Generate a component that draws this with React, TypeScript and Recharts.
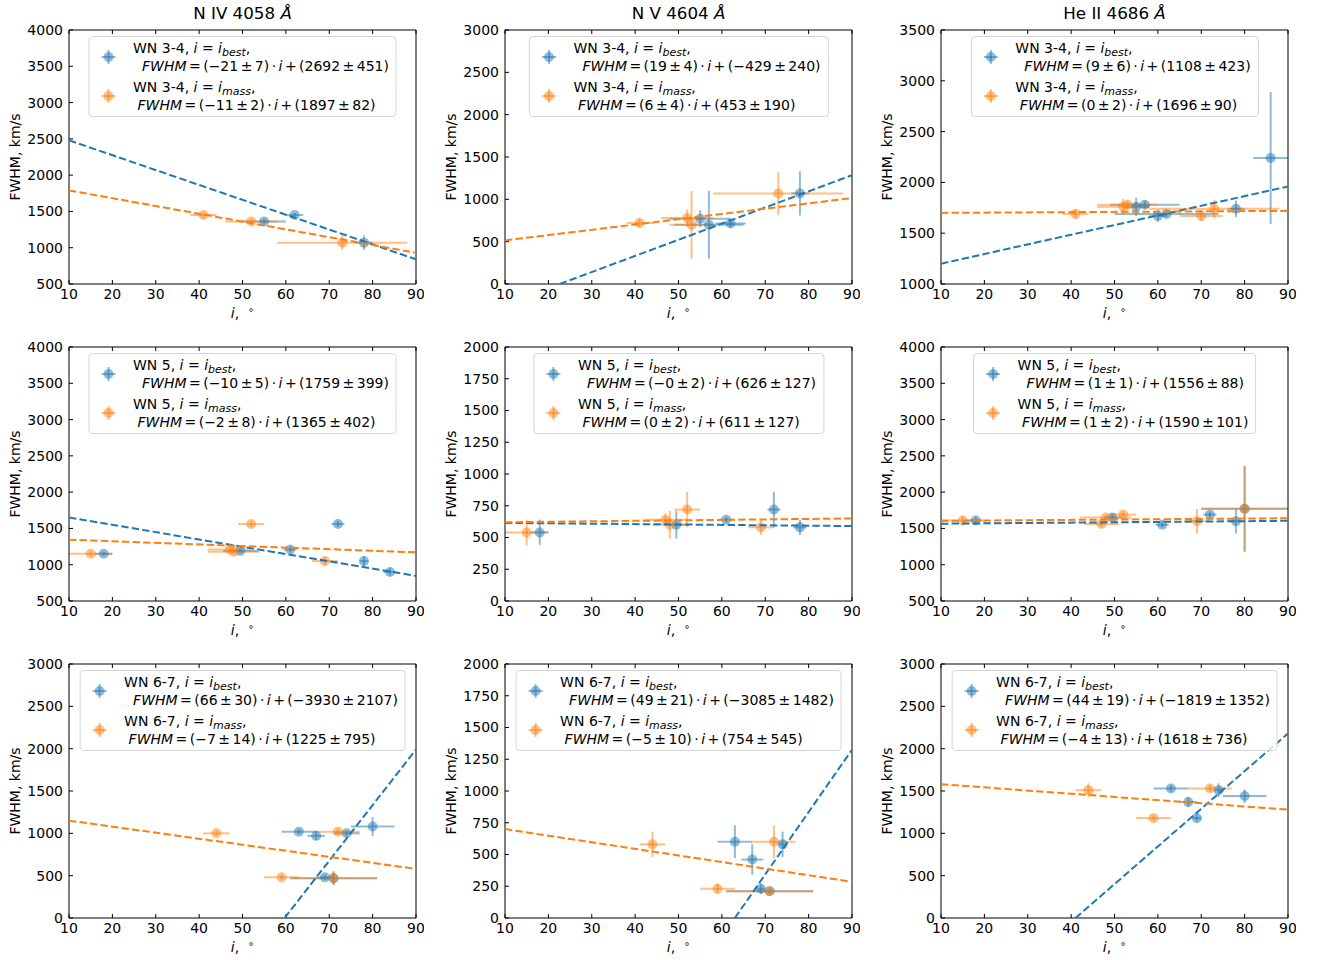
import React from 'react';
import { ScatterChart, Scatter, XAxis, YAxis, ErrorBar } from 'recharts';

const BLUE = '#1f77b4';
const ORANGE = '#ff7f0e';
const FONT = '"DejaVu Sans", sans-serif';

type Pt = { i: number; fwhm: number; ei: number; ef: number };
type Fit = { i: number; fwhm: number };

const incTicks = [10, 20, 30, 40, 50, 60, 70, 80, 90];
const lineNames = ['N IV 4058', 'N V 4604', 'He II 4686'];
const classNames = ['WN 3-4', 'WN 5', 'WN 6-7'];

// y ticks per panel (row-major)
const yTicks: number[][] = [
  [500, 1000, 1500, 2000, 2500, 3000, 3500, 4000],
  [0, 500, 1000, 1500, 2000, 2500, 3000],
  [1000, 1500, 2000, 2500, 3000, 3500],
  [500, 1000, 1500, 2000, 2500, 3000, 3500, 4000],
  [0, 250, 500, 750, 1000, 1250, 1500, 1750, 2000],
  [500, 1000, 1500, 2000, 2500, 3000, 3500, 4000],
  [0, 500, 1000, 1500, 2000, 2500, 3000],
  [0, 250, 500, 750, 1000, 1250, 1500, 1750, 2000],
  [0, 500, 1000, 1500, 2000, 2500, 3000],
];

// WN 3-4
const niv34Best: Pt[] = [
  { i: 55, fwhm: 1360, ei: 5, ef: 40 },
  { i: 62, fwhm: 1450, ei: 2, ef: 30 },
  { i: 78, fwhm: 1070, ei: 2, ef: 100 },
];
const niv34Mass: Pt[] = [
  { i: 41, fwhm: 1450, ei: 3, ef: 40 },
  { i: 52, fwhm: 1360, ei: 6, ef: 40 },
  { i: 73, fwhm: 1070, ei: 15, ef: 100 },
];
const niv34BestFit: Fit[] = [{ i: 10, fwhm: 2480 }, { i: 90, fwhm: 840 }];
const niv34MassFit: Fit[] = [{ i: 10, fwhm: 1790 }, { i: 90, fwhm: 930 }];

const nv34Best: Pt[] = [
  { i: 55, fwhm: 770, ei: 7, ef: 100 },
  { i: 57, fwhm: 700, ei: 8, ef: 400 },
  { i: 62, fwhm: 715, ei: 3.5, ef: 50 },
  { i: 78, fwhm: 1070, ei: 2, ef: 260 },
];
const nv34Mass: Pt[] = [
  { i: 41, fwhm: 720, ei: 3, ef: 50 },
  { i: 52, fwhm: 780, ei: 6, ef: 100 },
  { i: 53, fwhm: 700, ei: 5, ef: 400 },
  { i: 73, fwhm: 1070, ei: 15, ef: 250 },
];
const nv34BestFit: Fit[] = [{ i: 22.6, fwhm: 0 }, { i: 90, fwhm: 1285 }];
const nv34MassFit: Fit[] = [{ i: 10, fwhm: 515 }, { i: 90, fwhm: 1015 }];

const heii34Best: Pt[] = [
  { i: 55, fwhm: 1760, ei: 3, ef: 90 },
  { i: 57, fwhm: 1780, ei: 8, ef: 40 },
  { i: 60, fwhm: 1670, ei: 2, ef: 60 },
  { i: 62, fwhm: 1690, ei: 12, ef: 30 },
  { i: 78, fwhm: 1740, ei: 2, ef: 80 },
  { i: 86, fwhm: 2240, ei: 4, ef: 650 },
];
const heii34Mass: Pt[] = [
  { i: 41, fwhm: 1690, ei: 3, ef: 50 },
  { i: 52, fwhm: 1760, ei: 6, ef: 80 },
  { i: 53, fwhm: 1780, ei: 7, ef: 40 },
  { i: 70, fwhm: 1670, ei: 5, ef: 50 },
  { i: 73, fwhm: 1740, ei: 15, ef: 90 },
];
const heii34BestFit: Fit[] = [{ i: 10, fwhm: 1200 }, { i: 90, fwhm: 1960 }];
const heii34MassFit: Fit[] = [{ i: 10, fwhm: 1700 }, { i: 90, fwhm: 1720 }];

// WN 5
const niv5Best: Pt[] = [
  { i: 18, fwhm: 1150, ei: 2, ef: 30 },
  { i: 49.5, fwhm: 1190, ei: 4, ef: 30 },
  { i: 61, fwhm: 1210, ei: 1.5, ef: 40 },
  { i: 72, fwhm: 1560, ei: 1.5, ef: 40 },
  { i: 78, fwhm: 1050, ei: 1, ef: 70 },
  { i: 84, fwhm: 900, ei: 1.5, ef: 50 },
];
const niv5Mass: Pt[] = [
  { i: 15, fwhm: 1150, ei: 5, ef: 30 },
  { i: 47, fwhm: 1210, ei: 5, ef: 40 },
  { i: 48, fwhm: 1180, ei: 6, ef: 40 },
  { i: 52, fwhm: 1560, ei: 3, ef: 40 },
  { i: 69, fwhm: 1050, ei: 3, ef: 60 },
];
const niv5BestFit: Fit[] = [{ i: 10, fwhm: 1650 }, { i: 90, fwhm: 845 }];
const niv5MassFit: Fit[] = [{ i: 10, fwhm: 1345 }, { i: 90, fwhm: 1170 }];

const nv5Best: Pt[] = [
  { i: 18, fwhm: 540, ei: 2, ef: 100 },
  { i: 49.5, fwhm: 600, ei: 3, ef: 110 },
  { i: 61, fwhm: 640, ei: 1.5, ef: 20 },
  { i: 72, fwhm: 720, ei: 1.5, ef: 140 },
  { i: 78, fwhm: 580, ei: 1.5, ef: 60 },
];
const nv5Mass: Pt[] = [
  { i: 15, fwhm: 540, ei: 5, ef: 100 },
  { i: 47, fwhm: 640, ei: 5, ef: 50 },
  { i: 48, fwhm: 600, ei: 4, ef: 110 },
  { i: 52, fwhm: 720, ei: 3, ef: 140 },
  { i: 69, fwhm: 580, ei: 3, ef: 60 },
];
const nv5BestFit: Fit[] = [{ i: 10, fwhm: 615 }, { i: 90, fwhm: 590 }];
const nv5MassFit: Fit[] = [{ i: 10, fwhm: 620 }, { i: 90, fwhm: 650 }];

const heii5Best: Pt[] = [
  { i: 18, fwhm: 1610, ei: 1.5, ef: 50 },
  { i: 49.5, fwhm: 1650, ei: 2, ef: 40 },
  { i: 61, fwhm: 1550, ei: 1.5, ef: 40 },
  { i: 72, fwhm: 1690, ei: 1.5, ef: 40 },
  { i: 78, fwhm: 1600, ei: 1.5, ef: 170 },
  { i: 80, fwhm: 1770, ei: 10, ef: 590 },
];
const heii5Mass: Pt[] = [
  { i: 15, fwhm: 1610, ei: 5, ef: 60 },
  { i: 47, fwhm: 1560, ei: 4, ef: 50 },
  { i: 48, fwhm: 1650, ei: 6, ef: 40 },
  { i: 52, fwhm: 1690, ei: 3, ef: 40 },
  { i: 69, fwhm: 1600, ei: 3, ef: 170 },
  { i: 80, fwhm: 1770, ei: 10, ef: 590 },
];
const heii5BestFit: Fit[] = [{ i: 10, fwhm: 1565 }, { i: 90, fwhm: 1605 }];
const heii5MassFit: Fit[] = [{ i: 10, fwhm: 1605 }, { i: 90, fwhm: 1640 }];

// WN 6-7
const niv67Best: Pt[] = [
  { i: 63, fwhm: 1020, ei: 4, ef: 30 },
  { i: 67, fwhm: 970, ei: 2, ef: 50 },
  { i: 69, fwhm: 480, ei: 2, ef: 30 },
  { i: 71, fwhm: 470, ei: 10, ef: 80 },
  { i: 74, fwhm: 1000, ei: 3, ef: 30 },
  { i: 80, fwhm: 1080, ei: 5, ef: 110 },
];
const niv67Mass: Pt[] = [
  { i: 44, fwhm: 1000, ei: 3, ef: 30 },
  { i: 59, fwhm: 480, ei: 4, ef: 30 },
  { i: 71, fwhm: 470, ei: 10, ef: 80 },
  { i: 72, fwhm: 1020, ei: 5, ef: 40 },
];
const niv67BestFit: Fit[] = [{ i: 59.7, fwhm: 0 }, { i: 90, fwhm: 1990 }];
const niv67MassFit: Fit[] = [{ i: 10, fwhm: 1150 }, { i: 90, fwhm: 580 }];

const nv67Best: Pt[] = [
  { i: 63, fwhm: 600, ei: 4, ef: 130 },
  { i: 67, fwhm: 460, ei: 2.5, ef: 120 },
  { i: 69, fwhm: 230, ei: 1, ef: 40 },
  { i: 71, fwhm: 210, ei: 10, ef: 20 },
  { i: 74, fwhm: 580, ei: 1, ef: 100 },
];
const nv67Mass: Pt[] = [
  { i: 44, fwhm: 580, ei: 3, ef: 100 },
  { i: 59, fwhm: 230, ei: 4, ef: 40 },
  { i: 71, fwhm: 210, ei: 10, ef: 20 },
  { i: 72, fwhm: 600, ei: 5, ef: 130 },
];
const nv67BestFit: Fit[] = [{ i: 63, fwhm: 0 }, { i: 90, fwhm: 1325 }];
const nv67MassFit: Fit[] = [{ i: 10, fwhm: 700 }, { i: 90, fwhm: 285 }];

const heii67Best: Pt[] = [
  { i: 63, fwhm: 1530, ei: 4, ef: 40 },
  { i: 67, fwhm: 1370, ei: 2, ef: 60 },
  { i: 69, fwhm: 1180, ei: 1, ef: 40 },
  { i: 74, fwhm: 1510, ei: 1, ef: 80 },
  { i: 80, fwhm: 1440, ei: 5, ef: 80 },
];
const heii67Mass: Pt[] = [
  { i: 44, fwhm: 1510, ei: 3, ef: 80 },
  { i: 59, fwhm: 1180, ei: 4, ef: 30 },
  { i: 72, fwhm: 1530, ei: 5, ef: 40 },
];
const heii67BestFit: Fit[] = [{ i: 41, fwhm: 0 }, { i: 90, fwhm: 2180 }];
const heii67MassFit: Fit[] = [{ i: 10, fwhm: 1580 }, { i: 90, fwhm: 1280 }];

// legend fit coefficients
const slopeBest = ['−21 ± 7', '19 ± 4', '9 ± 6', '−10 ± 5', '−0 ± 2', '1 ± 1', '66 ± 30', '49 ± 21', '44 ± 19'];
const interBest = ['2692 ± 451', '−429 ± 240', '1108 ± 423', '1759 ± 399', '626 ± 127', '1556 ± 88', '−3930 ± 2107', '−3085 ± 1482', '−1819 ± 1352'];
const slopeMass = ['−11 ± 2', '6 ± 4', '0 ± 2', '−2 ± 8', '0 ± 2', '1 ± 2', '−7 ± 14', '−5 ± 10', '−4 ± 13'];
const interMass = ['1897 ± 82', '453 ± 190', '1696 ± 90', '1365 ± 402', '611 ± 127', '1590 ± 101', '1225 ± 795', '754 ± 545', '1618 ± 736'];

const bestSets = [niv34Best, nv34Best, heii34Best, niv5Best, nv5Best, heii5Best, niv67Best, nv67Best, heii67Best];
const massSets = [niv34Mass, nv34Mass, heii34Mass, niv5Mass, nv5Mass, heii5Mass, niv67Mass, nv67Mass, heii67Mass];
const bestFits = [niv34BestFit, nv34BestFit, heii34BestFit, niv5BestFit, nv5BestFit, heii5BestFit, niv67BestFit, nv67BestFit, heii67BestFit];
const massFits = [niv34MassFit, nv34MassFit, heii34MassFit, niv5MassFit, nv5MassFit, heii5MassFit, niv67MassFit, nv67MassFit, heii67MassFit];

const colLeft = [69, 505, 941];
const rowTop = [30, 347, 664];
const PW = 347;
const PH = 254;
const AX_W = 64;
const CH_W = AX_W + PW + 8;
const CH_H = 8 + PH + 40;

const tickStyle = { fill: '#000', fontSize: 14, fontFamily: FONT };

const Marker = ({ color }: { color: string }) => (
  <svg width={16} height={16} style={{ display: 'block' }}>
    <line x1={1} y1={8} x2={15} y2={8} stroke={color} strokeWidth={2} strokeOpacity={0.5} />
    <line x1={8} y1={1} x2={8} y2={15} stroke={color} strokeWidth={2} strokeOpacity={0.5} />
    <circle cx={8} cy={8} r={5} fill={color} fillOpacity={0.5} />
  </svg>
);

const LegendEntry = ({ color, cls, sub, slope, inter, indent, gap }: any) => (
  <div style={{ display: 'flex', alignItems: 'center', marginTop: gap }}>
    <div style={{ width: 44, boxSizing: 'border-box', paddingLeft: 11 }}>
      <Marker color={color} />
    </div>
    <div>
      <div>
        {cls}, <i>i</i> = <i>i</i>
        <span style={{ fontSize: 11, position: 'relative', top: 3, fontStyle: 'italic' }}>{sub}</span>,
      </div>
      <div style={{ paddingLeft: indent, wordSpacing: -2 }}>
        <i>FWHM</i> = ({slope}) · <i>i</i> + ({inter})
      </div>
    </div>
  </div>
);

const Panel = ({ idx }: { idx: number }) => {
  const row = Math.floor(idx / 3);
  const col = idx % 3;
  const left = colLeft[col];
  const top = rowTop[row];
  const ticks = yTicks[idx];
  const domain = [ticks[0], ticks[ticks.length - 1]];
  const shape = (color: string) => (props: any) => (
    <circle cx={props.cx} cy={props.cy} r={5} fill={color} fillOpacity={0.5} />
  );
  return (
    <>
      <div style={{ position: 'absolute', left: left - AX_W, top: top - 8, width: CH_W, height: CH_H }}>
        <ScatterChart width={CH_W} height={CH_H} margin={{ top: 7, right: 7, bottom: 0, left: 0 }}>
          <XAxis xAxisId="b" type="number" dataKey="i" domain={[10, 90]} ticks={incTicks} interval={0}
            allowDataOverflow tickSize={-4} tickMargin={9} height={40} stroke="#000" tick={tickStyle} />
          <XAxis xAxisId="t" orientation="top" type="number" dataKey="i" domain={[10, 90]} ticks={incTicks}
            interval={0} allowDataOverflow tickSize={-4} height={1} stroke="#000" tick={() => <g />} />
          <YAxis yAxisId="l" type="number" dataKey="fwhm" domain={domain} ticks={ticks} interval={0}
            allowDataOverflow tickSize={-4} tickMargin={10} width={AX_W} stroke="#000" tick={tickStyle} />
          <YAxis yAxisId="r" orientation="right" type="number" dataKey="fwhm" domain={domain} allowDataOverflow
            width={1} tick={false} tickLine={false} stroke="#000" />
          <Scatter xAxisId="b" yAxisId="l" data={bestSets[idx]} shape={shape(BLUE)} isAnimationActive={false}>
            <ErrorBar dataKey="ei" direction="x" width={0} stroke={BLUE} strokeWidth={2} strokeOpacity={0.5} isAnimationActive={false} />
            <ErrorBar dataKey="ef" direction="y" width={0} stroke={BLUE} strokeWidth={2} strokeOpacity={0.5} isAnimationActive={false} />
          </Scatter>
          <Scatter xAxisId="b" yAxisId="l" data={massSets[idx]} shape={shape(ORANGE)} isAnimationActive={false}>
            <ErrorBar dataKey="ei" direction="x" width={0} stroke={ORANGE} strokeWidth={2} strokeOpacity={0.5} isAnimationActive={false} />
            <ErrorBar dataKey="ef" direction="y" width={0} stroke={ORANGE} strokeWidth={2} strokeOpacity={0.5} isAnimationActive={false} />
          </Scatter>
          <Scatter xAxisId="b" yAxisId="l" data={bestFits[idx]} shape={() => <g />} isAnimationActive={false}
            line={{ stroke: BLUE, strokeWidth: 2, strokeDasharray: '7.4 3.2' }} />
          <Scatter xAxisId="b" yAxisId="l" data={massFits[idx]} shape={() => <g />} isAnimationActive={false}
            line={{ stroke: ORANGE, strokeWidth: 2, strokeDasharray: '7.4 3.2' }} />
        </ScatterChart>
      </div>
      {/* legend */}
      <div style={{ position: 'absolute', left: left + PW / 2, top: top + 6, transform: 'translateX(-50%)' }}>
        <div style={{ border: '1px solid #d6d6d6', borderRadius: 4, background: 'rgba(255,255,255,0.8)',
          padding: '3px 7px 3px 0', fontSize: 14, lineHeight: '16px', whiteSpace: 'nowrap' }}>
          <LegendEntry color={BLUE} cls={classNames[row]} sub="best" slope={slopeBest[idx]} inter={interBest[idx]} indent={9} gap={0} />
          <LegendEntry color={ORANGE} cls={classNames[row]} sub="mass" slope={slopeMass[idx]} inter={interMass[idx]} indent={4.5} gap={5} />
        </div>
      </div>
      {/* axis labels */}
      <div style={{ position: 'absolute', left: left - 54, top: top + PH / 2, fontSize: 14, whiteSpace: 'nowrap',
        transform: 'translate(-50%, -50%) rotate(-90deg)' }}>FWHM, km/s</div>
      <div style={{ position: 'absolute', left: left + PW / 2, top: top + PH + 29, fontSize: 14, whiteSpace: 'nowrap',
        transform: 'translate(-50%, -50%)' }}>
        <i>i</i>,{'\u00a0\u00a0'}<span style={{ fontSize: 10, position: 'relative', top: -5 }}>∘</span>
      </div>
      {row === 0 && (
        <div style={{ position: 'absolute', left: left + PW / 2, top: 13, fontSize: 16.7, whiteSpace: 'nowrap',
          transform: 'translate(-50%, -50%)' }}>
          {lineNames[col]} <i>Å</i>
        </div>
      )}
    </>
  );
};

export default function App() {
  return (
    <div style={{ position: 'absolute', left: 0, top: 0, width: 1322, height: 960, background: '#fff', fontFamily: FONT, color: '#000' }}>
      {[0, 1, 2, 3, 4, 5, 6, 7, 8].map((k) => (
        <Panel key={k} idx={k} />
      ))}
    </div>
  );
}
